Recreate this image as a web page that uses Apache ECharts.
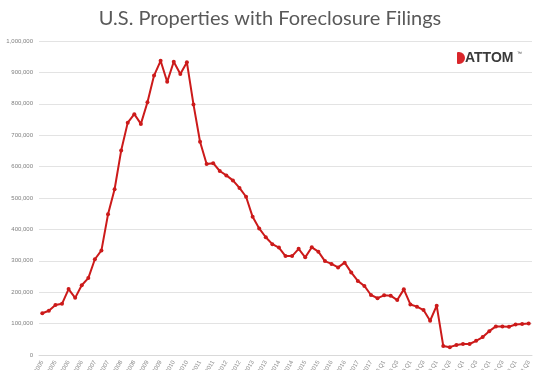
<!DOCTYPE html>
<html>
<head>
<meta charset="utf-8">
<script src="https://cdn.jsdelivr.net/npm/echarts@6/dist/echarts.min.js"></script>
<style>html,body{margin:0;padding:0;background:#fff;}#c{width:540px;height:370px;}</style>
</head>
<body>
<div id="c"></div>
<script>
const years = [2005,2006,2007,2008,2009,2010,2011,2012,2013,2014,2015,2016,2017,2018,2019,2020,2021,2022,2023];
const quarters = ['Q1','Q2','Q3','Q4'];
const categories = [];
years.forEach(y => quarters.forEach(q => {
  if (categories.length < 75) categories.push(y < 2018 ? q + ' ' + y : y + ' ' + q);
}));
const filings = [
  133000, 141000, 159000, 163000, 210000, 182000, 222000, 245000, 305000, 333000,
  448000, 528000, 651000, 740000, 767000, 736000, 805000, 890000, 937000, 870000,
  934000, 895000, 932000, 798000, 679000, 608000, 611000, 586000, 572000, 556000,
  532000, 504000, 440000, 403000, 375000, 353000, 342000, 315000, 315000, 338000,
  311000, 343000, 329000, 299000, 290000, 279000, 294000, 263000, 236000, 220000,
  191000, 181000, 190000, 189000, 175000, 209000, 161000, 154000, 143000, 109000,
  157000, 29000, 25000, 32000, 35000, 35000, 45000, 57000, 76000, 91000,
  91000, 90000, 97000, 99000, 100000
];
const yTicks = { min: 0, max: 1000000, interval: 100000 };
const chartTitle = 'U.S. Properties with Foreclosure Filings';

const chart = echarts.init(document.getElementById('c'), null, {renderer: 'canvas'});
chart.setOption({
  backgroundColor: '#ffffff',
  animation: false,
  title: {
    text: chartTitle,
    left: 'center',
    top: 4,
    textStyle: { fontFamily: 'Lato', fontWeight: 'normal', fontSize: 20, color: '#595959' }
  },
  grid: { left: 39, right: 8, top: 41, bottom: 15, containLabel: false, outerBoundsMode: 'none' },
  xAxis: {
    type: 'category',
    data: categories,
    boundaryGap: true,
    axisLine: { lineStyle: { color: '#d9d9d9', width: 1 } },
    axisTick: { show: false },
    axisLabel: { interval: 1, rotate: 60, fontSize: 6, color: '#8c8c8c', margin: 6, fontFamily: 'Liberation Sans' }
  },
  yAxis: {
    type: 'value',
    min: yTicks.min, max: yTicks.max, interval: yTicks.interval,
    axisLine: { show: false },
    axisTick: { show: false },
    splitLine: { lineStyle: { color: '#e3e3e3', width: 1 } },
    axisLabel: {
      fontSize: 6, color: '#7f7f7f', margin: 6, fontFamily: 'Liberation Sans',
      formatter: v => v.toLocaleString('en-US')
    }
  },
  series: [{
    type: 'line',
    data: filings,
    symbol: 'circle',
    symbolSize: 4,
    lineStyle: { color: '#cc1a1a', width: 2 },
    itemStyle: { color: '#cc1a1a' }
  }],
  graphic: [
    { type: 'rect', left: 457, top: 52, shape: { width: 8, height: 12, r: [1, 6, 6, 1] }, style: { fill: '#d9262b' } },
    { type: 'text', left: 465, top: 51, style: { text: 'ATTOM', fontFamily: 'Liberation Sans', fontWeight: 'bold', fontSize: 14, fill: '#3a3a3a' } },
    { type: 'text', left: 517, top: 51, style: { text: '™', fontFamily: 'Liberation Sans', fontSize: 5, fill: '#3a3a3a' } }
  ]
});
</script>
</body>
</html>
